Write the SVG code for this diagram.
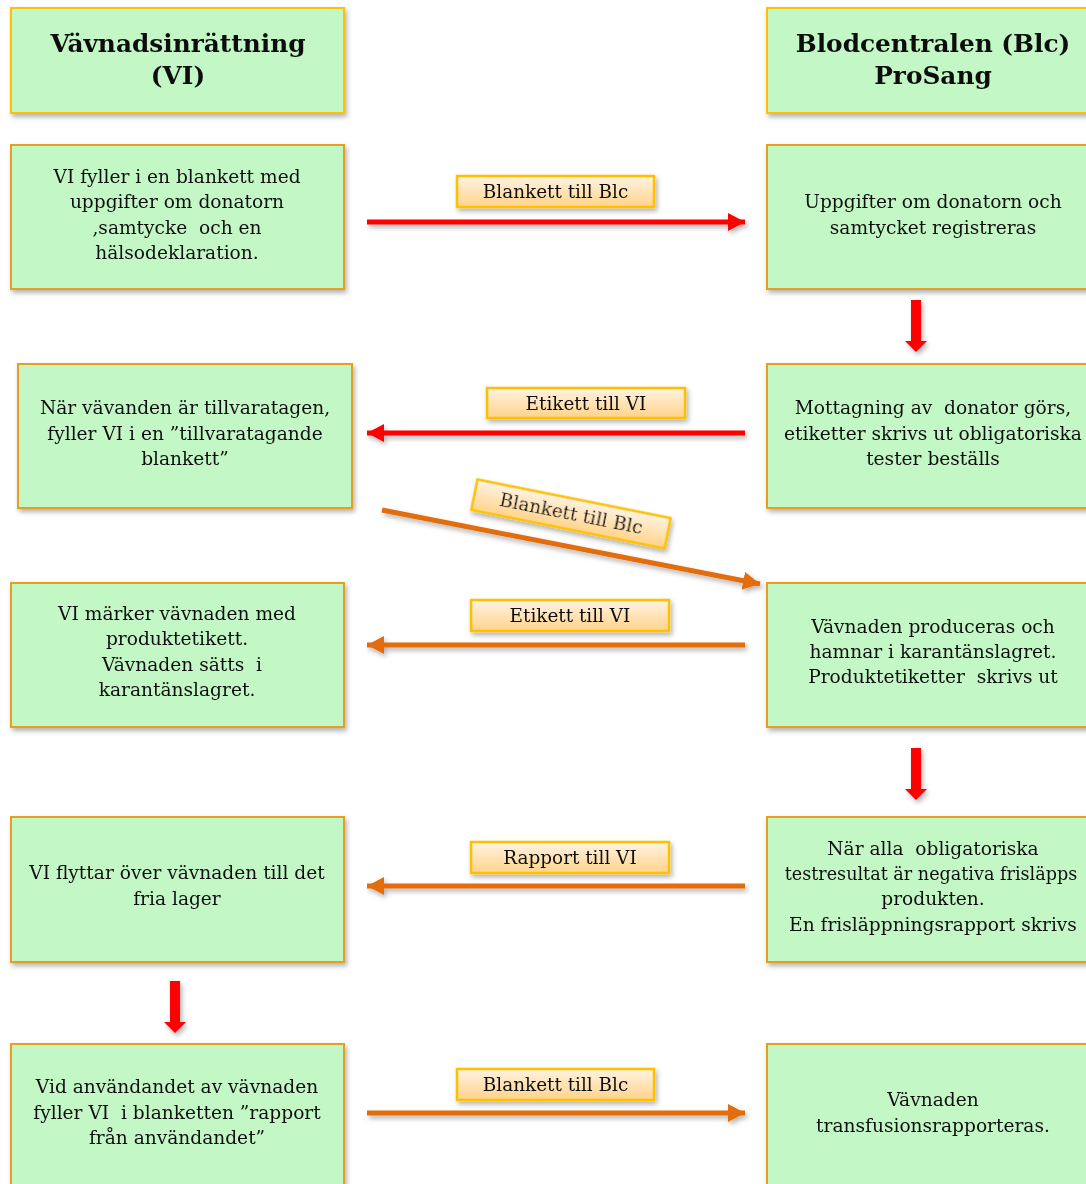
<svg xmlns="http://www.w3.org/2000/svg" width="1086" height="1184" viewBox="0 0 1086 1184" xml:space="preserve">
  <defs>
    <style>
      .box { fill: #C4F7C6; stroke: #E5A020; stroke-width: 2; }
      .head { fill: #C4F7C6; stroke: #FFC000; stroke-width: 2; }
      .tag { fill: url(#tagFill); stroke: #FFC000; stroke-width: 2.5; }
      text { white-space: pre; }
      .t { font-family: "DejaVu Serif", Georgia, serif; font-size: 18.6px; fill: #111; text-anchor: middle; }
      .tn { font-size: 17.6px; }
      .h { font-family: "DejaVu Serif", Georgia, serif; font-size: 24.8px; font-weight: bold; fill: #111; text-anchor: middle; }
      .lbl { font-family: "DejaVu Serif", Georgia, serif; font-size: 18.4px; fill: #111; text-anchor: middle; }
      .red { stroke: #FF0000; stroke-width: 5; fill: none; }
      .org { stroke: #E36C09; stroke-width: 5; fill: none; }
    </style>
    <linearGradient id="tagFill" x1="0" y1="0" x2="0" y2="1">
      <stop offset="0" stop-color="#FFF3E2"/>
      <stop offset="1" stop-color="#FFD38A"/>
    </linearGradient>
    <filter id="shadow" x="-10%" y="-10%" width="130%" height="140%">
      <feDropShadow dx="2" dy="3" stdDeviation="2.5" flood-color="#000" flood-opacity="0.3"/>
    </filter>
    <marker id="headRed" markerUnits="userSpaceOnUse" markerWidth="18" markerHeight="18" refX="17" refY="9" orient="auto">
      <path d="M0,0 L17,9 L0,18 Z" fill="#FF0000"/>
    </marker>
    <marker id="headOrg" markerUnits="userSpaceOnUse" markerWidth="18" markerHeight="18" refX="17" refY="9" orient="auto">
      <path d="M0,0 L17,9 L0,18 Z" fill="#E36C09"/>
    </marker>
  </defs>

  <rect width="1086" height="1184" fill="#FFFFFF"/>

  <!-- column headers -->
  <g id="header-vi" filter="url(#shadow)">
    <rect class="head" x="11" y="8" width="333" height="105"/>
    <text class="h" x="178" y="52">Vävnadsinrättning</text>
    <text class="h" x="178" y="84">(VI)</text>
  </g>
  <g id="header-blc" filter="url(#shadow)">
    <rect class="head" x="767" y="8" width="330" height="105"/>
    <text class="h" x="933" y="52">Blodcentralen (Blc)</text>
    <text class="h" x="933" y="84">ProSang</text>
  </g>

  <!-- left column steps -->
  <g id="vi-1" filter="url(#shadow)">
    <rect class="box" x="11" y="145" width="333" height="144"/>
    <text class="t" x="177" y="183">VI fyller i en blankett med</text>
    <text class="t" x="177" y="208">uppgifter om donatorn</text>
    <text class="t" x="177" y="234">,samtycke  och en</text>
    <text class="t" x="177" y="259">hälsodeklaration.</text>
  </g>
  <g id="vi-2" filter="url(#shadow)">
    <rect class="box" x="18" y="364" width="334" height="144"/>
    <text class="t" x="185" y="414">När vävanden är tillvaratagen,</text>
    <text class="t" x="185" y="440">fyller VI i en ”tillvaratagande</text>
    <text class="t" x="185" y="465">blankett”</text>
  </g>
  <g id="vi-3" filter="url(#shadow)">
    <rect class="box" x="11" y="583" width="333" height="144"/>
    <text class="t" x="177" y="620">VI märker vävnaden med</text>
    <text class="t" x="177" y="645">produktetikett.</text>
    <text class="t" x="182" y="671">Vävnaden sätts  i</text>
    <text class="t" x="177" y="696">karantänslagret.</text>
  </g>
  <g id="vi-4" filter="url(#shadow)">
    <rect class="box" x="11" y="817" width="333" height="145"/>
    <text class="t" x="177" y="879">VI flyttar över vävnaden till det</text>
    <text class="t" x="177" y="905">fria lager</text>
  </g>
  <g id="vi-5" filter="url(#shadow)">
    <rect class="box" x="11" y="1044" width="333" height="150"/>
    <text class="t" x="177" y="1093">Vid användandet av vävnaden</text>
    <text class="t" x="177" y="1119">fyller VI  i blanketten ”rapport</text>
    <text class="t" x="177" y="1144">från användandet”</text>
  </g>

  <!-- right column steps -->
  <g id="blc-1" filter="url(#shadow)">
    <rect class="box" x="767" y="145" width="330" height="144"/>
    <text class="t" x="933" y="208">Uppgifter om donatorn och</text>
    <text class="t" x="933" y="234">samtycket registreras</text>
  </g>
  <g id="blc-2" filter="url(#shadow)">
    <rect class="box" x="767" y="364" width="330" height="144"/>
    <text class="t" x="933" y="414">Mottagning av  donator görs,</text>
    <text class="t" x="933" y="440">etiketter skrivs ut obligatoriska</text>
    <text class="t" x="933" y="465">tester beställs</text>
  </g>
  <g id="blc-3" filter="url(#shadow)">
    <rect class="box" x="767" y="583" width="330" height="144"/>
    <text class="t" x="933" y="633">Vävnaden produceras och</text>
    <text class="t" x="933" y="658">hamnar i karantänslagret.</text>
    <text class="t" x="933" y="683">Produktetiketter  skrivs ut</text>
  </g>
  <g id="blc-4" filter="url(#shadow)">
    <rect class="box" x="767" y="817" width="330" height="145"/>
    <text class="t" x="933" y="855">När alla  obligatoriska</text>
    <text class="t tn" x="931" y="880">testresultat är negativa frisläpps</text>
    <text class="t" x="933" y="905">produkten.</text>
    <text class="t" x="933" y="931">En frisläppningsrapport skrivs</text>
  </g>
  <g id="blc-5" filter="url(#shadow)">
    <rect class="box" x="767" y="1044" width="330" height="150"/>
    <text class="t" x="933" y="1106">Vävnaden</text>
    <text class="t" x="933" y="1132">transfusionsrapporteras.</text>
  </g>

  <!-- connectors -->
  <g id="connectors" filter="url(#shadow)">
    <line class="red" x1="367" y1="222" x2="745" y2="222" marker-end="url(#headRed)"/>
    <line class="red" x1="745" y1="433" x2="367" y2="433" marker-end="url(#headRed)"/>
    <line class="org" x1="382" y1="510" x2="760" y2="584" marker-end="url(#headOrg)"/>
    <line class="org" x1="745" y1="645" x2="367" y2="645" marker-end="url(#headOrg)"/>
    <line class="org" x1="745" y1="886" x2="367" y2="886" marker-end="url(#headOrg)"/>
    <line class="org" x1="367" y1="1113" x2="745" y2="1113" marker-end="url(#headOrg)"/>
    <!-- vertical block arrows -->
    <path d="M911,300 H921 V341 H927 L916,352 L905,341 H911 Z" fill="#FF0000"/>
    <path d="M911,748 H921 V789 H927 L916,800 L905,789 H911 Z" fill="#FF0000"/>
    <path d="M170,981 H180 V1022 H186 L175,1033 L164,1022 H170 Z" fill="#FF0000"/>
  </g>

  <!-- connector labels -->
  <g id="label-blankett-1" filter="url(#shadow)">
    <rect class="tag" x="457" y="176" width="197" height="31"/>
    <text class="lbl" x="555.5" y="198">Blankett till Blc</text>
  </g>
  <g id="label-etikett-1" filter="url(#shadow)">
    <rect class="tag" x="487" y="388" width="198" height="30"/>
    <text class="lbl" x="586" y="410">Etikett till VI</text>
  </g>
  <g id="label-blankett-2" filter="url(#shadow)" transform="translate(571,514) rotate(11.3)">
    <rect class="tag" x="-98.5" y="-15.5" width="197" height="31"/>
    <text class="lbl" x="0" y="6">Blankett till Blc</text>
  </g>
  <g id="label-etikett-2" filter="url(#shadow)">
    <rect class="tag" x="471" y="600" width="198" height="31"/>
    <text class="lbl" x="570" y="622">Etikett till VI</text>
  </g>
  <g id="label-rapport" filter="url(#shadow)">
    <rect class="tag" x="471" y="842" width="198" height="31"/>
    <text class="lbl" x="570" y="864">Rapport till VI</text>
  </g>
  <g id="label-blankett-3" filter="url(#shadow)">
    <rect class="tag" x="457" y="1069" width="197" height="31"/>
    <text class="lbl" x="555.5" y="1091">Blankett till Blc</text>
  </g>
</svg>
